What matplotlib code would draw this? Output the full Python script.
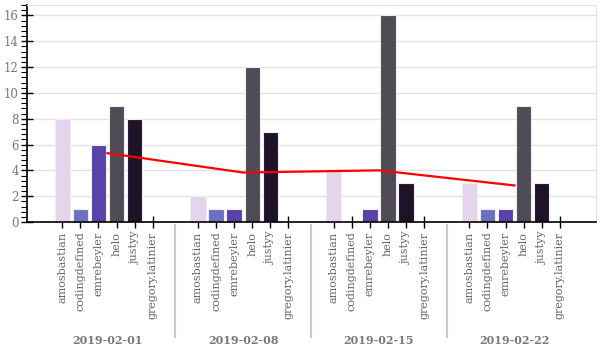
import matplotlib
matplotlib.use("Agg")
import matplotlib.pyplot as plt
from matplotlib.ticker import MultipleLocator
from matplotlib.lines import Line2D

weeks = ["2019-02-01", "2019-02-08", "2019-02-15", "2019-02-22"]
users = ["amosbastian", "codingdefined", "emrebeyler", "helo", "justyy", "gregory.latinier"]
counts = {
    "amosbastian":      [8, 2, 4, 3],
    "codingdefined":    [1, 1, 0, 1],
    "emrebeyler":       [6, 1, 1, 1],
    "helo":             [9, 12, 16, 9],
    "justyy":           [8, 7, 3, 3],
    "gregory.latinier": [0, 0, 0, 0],
}
average = [5.33, 3.83, 4.0, 2.83]
colors = {
    "amosbastian": "#e4d4ec",
    "codingdefined": "#6b72c4",
    "emrebeyler": "#5a43a8",
    "helo": "#4f4c57",
    "justyy": "#1f1328",
    "gregory.latinier": "#888888",
}

plt.rcParams["font.family"] = ["DejaVu Serif"]
fig = plt.figure(figsize=(6, 3.5), dpi=100)
ax = fig.add_axes([0.045, 0.3657, 0.9483, 0.62])

step = len(users) + 1.5
xs, labels = [], []
for g, wk in enumerate(weeks):
    for i, u in enumerate(users):
        x = g * step + i
        xs.append(x)
        labels.append(u)
        v = counts[u][g]
        if v > 0:
            ax.bar(x, v, width=0.85, color=colors[u], edgecolor="#eeeeee", linewidth=0.8, zorder=2)
centers = [g * step + (len(users) - 1) / 2 for g in range(len(weeks))]
ax.plot(centers, average, color="#ff0000", linewidth=1.6, zorder=3)

ax.set_xlim(-1.95, (len(weeks) - 1) * step + len(users) - 1 + 2.0)
ax.set_ylim(0, 16.8)
ax.set_xticks(xs)
ax.set_xticklabels(labels, rotation=90, color="#666666", fontsize=8)
ax.yaxis.set_major_locator(MultipleLocator(2))
ax.yaxis.set_minor_locator(MultipleLocator(0.4))
ax.tick_params(axis="y", which="major", direction="inout", length=8, width=1, labelsize=8.5, labelcolor="#777777", pad=2)
ax.tick_params(axis="y", which="minor", direction="out", length=4, width=0.8)
ax.tick_params(axis="x", which="major", direction="inout", length=8, width=1, pad=3)
ax.grid(axis="y", color="#e2e2e2", linewidth=1, zorder=0)
ax.set_axisbelow(True)
for s in ["top", "right"]:
    ax.spines[s].set_color("#e2e2e2")
for s in ["left", "bottom"]:
    ax.spines[s].set_color("black")
    ax.spines[s].set_linewidth(1.2)

# group labels and separators
for g, wk in enumerate(weeks):
    xd = ax.transData.transform((centers[g], 0))[0]
    xf = fig.transFigure.inverted().transform((xd, 0))[0]
    fig.text(xf, 1 - 340 / 350, wk, ha="center", va="center", fontsize=8,
             fontweight="bold", color="#777777")
for g in range(1, len(weeks)):
    xsep = g * step - 1.25
    xd = ax.transData.transform((xsep, 0))[0]
    xf = fig.transFigure.inverted().transform((xd, 0))[0]
    fig.add_artist(Line2D([xf, xf], [1 - 225 / 350, 1 - 337 / 350], transform=fig.transFigure,
                          color="#cccccc", linewidth=1.5))

fig.savefig("out.png", dpi=100)
